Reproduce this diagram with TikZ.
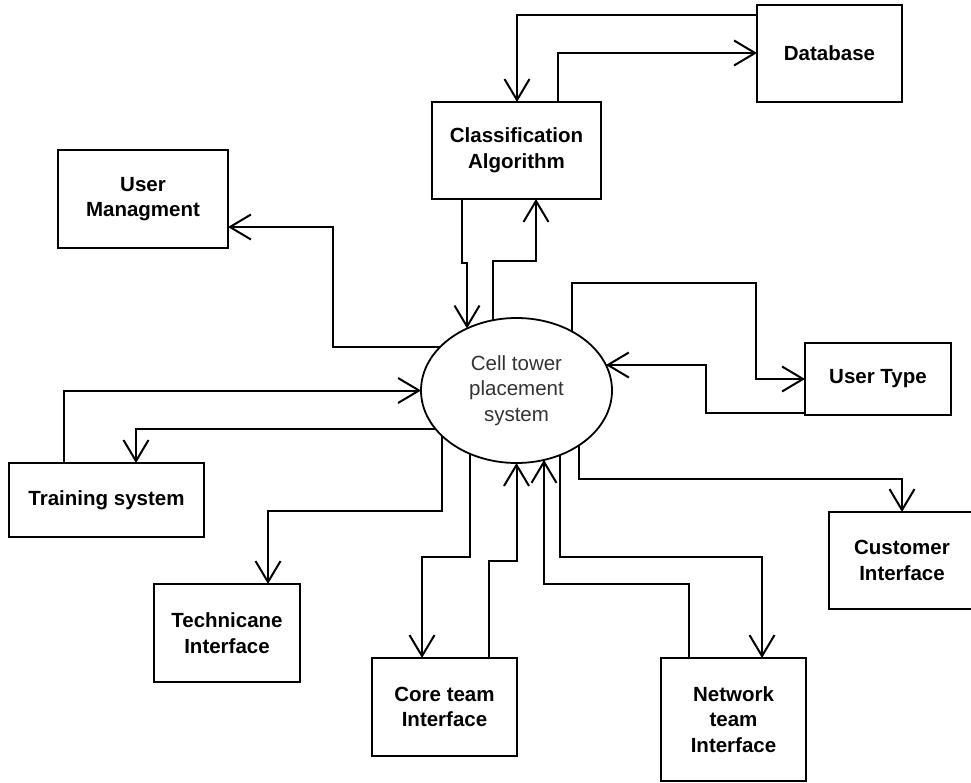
\documentclass[tikz,border=0pt]{standalone}
\usepackage{fontspec}
\setmainfont{Liberation Sans}
\usetikzlibrary{arrows.meta,shapes.geometric,calc}
% radii of the central process ellipse
\def\cellrx{95.5}
\def\cellry{72.5}
\begin{document}
\begin{tikzpicture}[x=1pt,y=-1pt,
  box/.style={draw, rectangle, line width=2pt, align=center, inner sep=0pt, outer sep=0pt,
              font=\fontsize{20.5}{25.7}\selectfont\bfseries},
  flow/.style={line width=2pt, -{Straight Barb[length=21pt,width=25pt]}}
]
\useasboundingbox (0,0) rectangle (971,783);

% external entities
\node[box, minimum width=145pt, minimum height=97pt]  (db)  at (829.5,53.5)  {Database};
\node[box, minimum width=169pt, minimum height=97pt]  (cls) at (516.5,150.5) {Classification\\Algorithm};
\node[box, minimum width=170pt, minimum height=98pt]  (um)  at (143,199)     {User\\Managment};
\node[box, minimum width=146pt, minimum height=72pt]  (ut)  at (878,379)     {User Type};
\node[box, minimum width=195pt, minimum height=74pt]  (ts)  at (106.5,500)   {Training system};
\node[box, minimum width=146pt, minimum height=97pt]  (ci)  at (902,560.5)   {Customer\\Interface};
\node[box, minimum width=146pt, minimum height=98pt]  (ti)  at (227,633)     {Technicane\\Interface};
\node[box, minimum width=145pt, minimum height=98pt]  (ct)  at (444.5,707)   {Core team\\Interface};
\node[box, minimum width=145pt, minimum height=123pt] (nt)  at (733.5,719.5) {Network\\team\\Interface};

% central process
\node[ellipse, draw, line width=1.8pt, minimum width=191pt, minimum height=145pt,
      inner sep=0pt, outer sep=0pt, align=center, text=black!80,
      font=\fontsize{20.5}{25.7}\selectfont] (cell) at (516.5,390.5) {Cell tower\\placement\\system};

% ports on the ellipse border
\coordinate (pA) at ($(cell.center)+(-49.5,{-\cellry*sqrt(1-(49.5/\cellrx)^2)})$);
\coordinate (pB) at ($(cell.center)+(-23.5,{-\cellry*sqrt(1-(23.5/\cellrx)^2)})$);
\coordinate (pC) at ($(cell.center)+(55.5,{-\cellry*sqrt(1-(55.5/\cellrx)^2)})$);
\coordinate (pD) at ($(cell.center)+({\cellrx*sqrt(1-(25.5/\cellry)^2)},-25.5)$);
\coordinate (pE) at ($(cell.center)+({-\cellrx*sqrt(1-(43.5/\cellry)^2)},-43.5)$);
\coordinate (pF) at ($(cell.center)+({-\cellrx*sqrt(1-(38.5/\cellry)^2)},38.5)$);
\coordinate (pG) at ($(cell.center)+(-74.5,{\cellry*sqrt(1-(74.5/\cellrx)^2)})$);
\coordinate (pH) at ($(cell.center)+(-46.5,{\cellry*sqrt(1-(46.5/\cellrx)^2)})$);
\coordinate (pI) at ($(cell.center)+(27.5,{\cellry*sqrt(1-(27.5/\cellrx)^2)})$);
\coordinate (pJ) at ($(cell.center)+(43.5,{\cellry*sqrt(1-(43.5/\cellrx)^2)})$);
\coordinate (pK) at ($(cell.center)+(62.5,{\cellry*sqrt(1-(62.5/\cellrx)^2)})$);

% data flows
\draw[flow] (db.west |- 0,15) -| (cls.north -| 517,0);
\draw[flow] (cls.north -| 558,0) |- (db.west |- 0,53);
\draw[flow] (cls.south -| 462,0) -- (462,263) -| (pA);
\draw[flow] (pB) |- (536,261) -- (cls.south -| 536,0);
\draw[flow] (pC) |- (756,283) |- (ut.west);
\draw[flow] (ut.west |- 0,413) -| (706,365) -- (pD);
\draw[flow] (pE) -| (333,227) -- (um.east |- 0,227);
\draw[flow] (ts.north -| 64,0) |- (cell.west);
\draw[flow] (pF) -| (ts.north -| 136,0);
\draw[flow] (pG) |- (268,511) -- (ti.north -| 268,0);
\draw[flow] (pH) |- (422,557) -- (ct.north -| 422,0);
\draw[flow] (ct.north -| 489,0) |- (cell.south |- 0,561) -- (cell.south);
\draw[flow] (nt.north -| 689,0) |- (pI |- 0,584) -- (pI);
\draw[flow] (pJ) |- (762,557) -- (nt.north -| 762,0);
\draw[flow] (pK) |- (ci.north |- 0,479) -- (ci.north);
\end{tikzpicture}
\end{document}
